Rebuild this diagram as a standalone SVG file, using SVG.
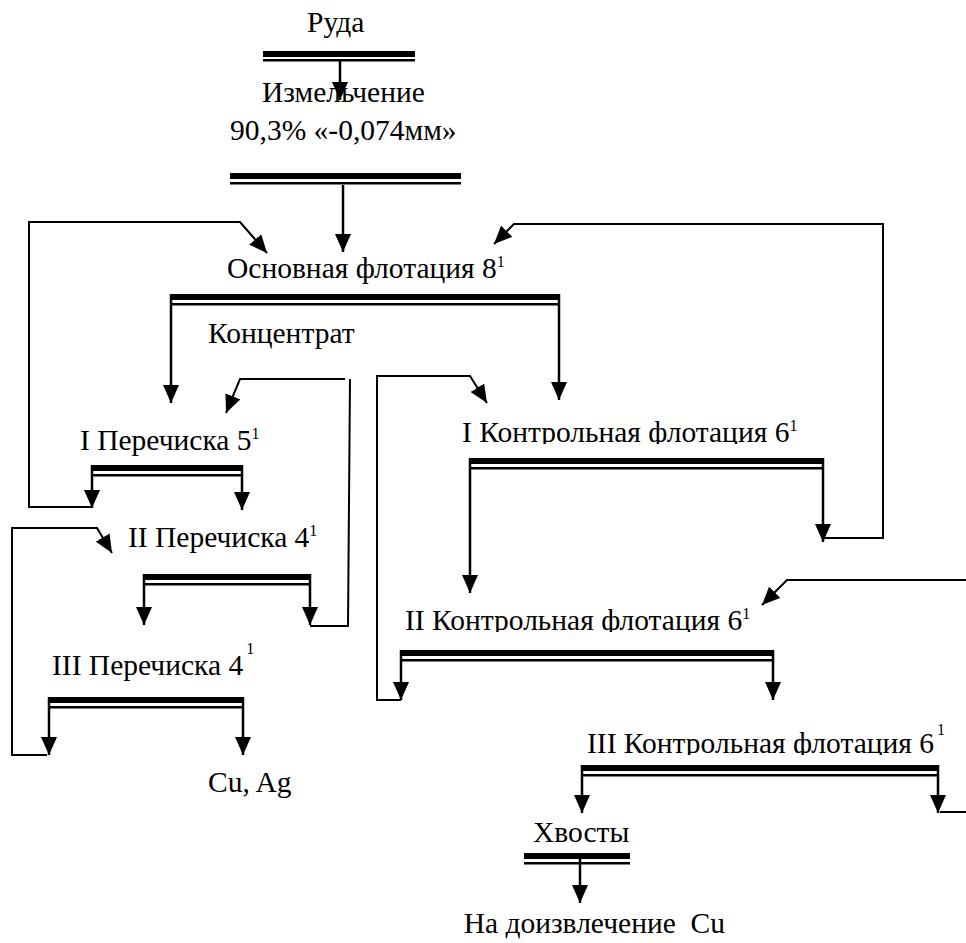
<svg xmlns="http://www.w3.org/2000/svg" width="966" height="943" viewBox="0 0 966 943">
  <style>
    text { font-family: "Liberation Serif", "Times New Roman", serif; font-size: 29.5px; fill: #000; white-space: pre; }
    .sup { font-size: 16px; }
    .thick { fill: #000; }
    .thin { fill: #000; }
    .arrow { fill: none; stroke: #000; stroke-width: 2.5; marker-end: url(#head); }
    .loop { fill: none; stroke: #000; stroke-width: 2; }
    .loopa { fill: none; stroke: #000; stroke-width: 2; marker-end: url(#head); }
  </style>
  <defs>
    <marker id="head" viewBox="0 0 18 16" refX="18" refY="8" markerWidth="18" markerHeight="16" markerUnits="userSpaceOnUse" orient="auto">
      <path d="M0,0 L18,8 L0,16 z" fill="#000"/>
    </marker>
    <!-- the control-flotation captions are cut just under their baseline -->
    <clipPath id="clipK1"><rect x="440" y="400" width="380" height="44"/></clipPath>
    <clipPath id="clipK2"><rect x="390" y="590" width="380" height="42"/></clipPath>
    <clipPath id="clipK3"><rect x="570" y="700" width="390" height="55"/></clipPath>
  </defs>

  <!-- connectors -->
  <g id="connectors">
    <path class="arrow" d="M340,61 V100"/>
    <path class="arrow" d="M343,185 V252"/>
    <path class="arrow" d="M171,294 V403"/>
    <path class="arrow" d="M559,294 V400"/>
    <!-- I cleaning tailings back to rougher -->
    <path class="arrow" d="M92,465 V508"/>
    <path class="loopa" d="M92,507 H29 V222 H240 L267,253"/>
    <path class="arrow" d="M242,465 V510"/>
    <!-- II cleaning -->
    <path class="arrow" d="M144,574 V625"/>
    <path class="arrow" d="M310,574 V625"/>
    <path class="loop" d="M310,626 H348 L350,379"/>
    <path class="loopa" d="M345,379 H240 L226,413"/>
    <!-- III cleaning -->
    <path class="arrow" d="M49,697 V755"/>
    <path class="loopa" d="M47,755 H12 V528 H97 L112,553"/>
    <path class="arrow" d="M243,697 V755"/>
    <!-- I scavenger -->
    <path class="arrow" d="M470,458 V593"/>
    <path class="arrow" d="M823,458 V542"/>
    <path class="loopa" d="M823,538 H883 V224 H514 L494,244"/>
    <!-- II scavenger -->
    <path class="arrow" d="M401,650 V700"/>
    <path class="loopa" d="M401,700 H377 V376 H470 L487,403"/>
    <path class="arrow" d="M773,650 V700"/>
    <path class="loopa" d="M966,580 H787 L762,605"/>
    <!-- III scavenger -->
    <path class="arrow" d="M582,765 V813"/>
    <path class="arrow" d="M938,765 V813"/>
    <path class="loop" d="M940,812 H966"/>
    <path class="arrow" d="M580,858 V903"/>
  </g>

  <g id="ore">
    <text x="307" y="32">Руда</text>
    <rect class="thick" x="263" y="51" width="152" height="6"/>
    <rect class="thin" x="263" y="59" width="152" height="2.5"/>
  </g>

  <g id="grinding">
    <text x="262" y="102">Измельчение</text>
    <text x="230" y="140">90,3% «-0,074мм»</text>
    <rect class="thick" x="230" y="173" width="231" height="6"/>
    <rect class="thin" x="230" y="182" width="231" height="2.5"/>
  </g>

  <g id="rougher">
    <text x="227" y="278">Основная флотация 8<tspan class="sup" dy="-11">1</tspan></text>
    <rect class="thick" x="171" y="294" width="387" height="6"/>
    <rect class="thin" x="171" y="303" width="387" height="2.5"/>
    <text x="208" y="343">Концентрат</text>
  </g>

  <g id="cleaner1">
    <text x="80" y="450">I Перечиска 5<tspan class="sup" dy="-11">1</tspan></text>
    <rect class="thick" x="92" y="465" width="150" height="6"/>
    <rect class="thin" x="92" y="474" width="150" height="2.5"/>
  </g>

  <g id="cleaner2">
    <text x="128" y="547">II Перечиска 4<tspan class="sup" dy="-11">1</tspan></text>
    <rect class="thick" x="144" y="574" width="166" height="6"/>
    <rect class="thin" x="144" y="583" width="166" height="2.5"/>
  </g>

  <g id="cleaner3">
    <text x="52" y="675">III Перечиска 4<tspan class="sup" dx="3" dy="-21">1</tspan></text>
    <rect class="thick" x="49" y="697" width="194" height="6"/>
    <rect class="thin" x="49" y="706" width="194" height="2.5"/>
  </g>

  <g id="concentrate">
    <text x="208" y="792">Cu, Ag</text>
  </g>

  <g id="scavenger1">
    <text x="462" y="442" clip-path="url(#clipK1)">I Контрольная флотация 6<tspan class="sup" dy="-11">1</tspan></text>
    <rect class="thick" x="470" y="458" width="353" height="6"/>
    <rect class="thin" x="470" y="467" width="353" height="2.5"/>
  </g>

  <g id="scavenger2">
    <text x="405" y="630" clip-path="url(#clipK2)">II Контрольная флотация 6<tspan class="sup" dy="-11">1</tspan></text>
    <rect class="thick" x="401" y="650" width="372" height="6"/>
    <rect class="thin" x="401" y="659" width="372" height="2.5"/>
  </g>

  <g id="scavenger3">
    <text x="587" y="753" clip-path="url(#clipK3)">III Контрольная флотация 6<tspan class="sup" dx="3" dy="-18">1</tspan></text>
    <rect class="thick" x="583" y="765" width="355" height="6"/>
    <rect class="thin" x="583" y="774" width="355" height="2.5"/>
  </g>

  <g id="tailings">
    <text x="533" y="842">Хвосты</text>
    <rect class="thick" x="524" y="853" width="106" height="6"/>
    <rect class="thin" x="524" y="862" width="106" height="2.5"/>
  </g>

  <g id="recovery">
    <text x="725" y="933" text-anchor="end">На доизвлечение  Cu</text>
  </g>
</svg>
